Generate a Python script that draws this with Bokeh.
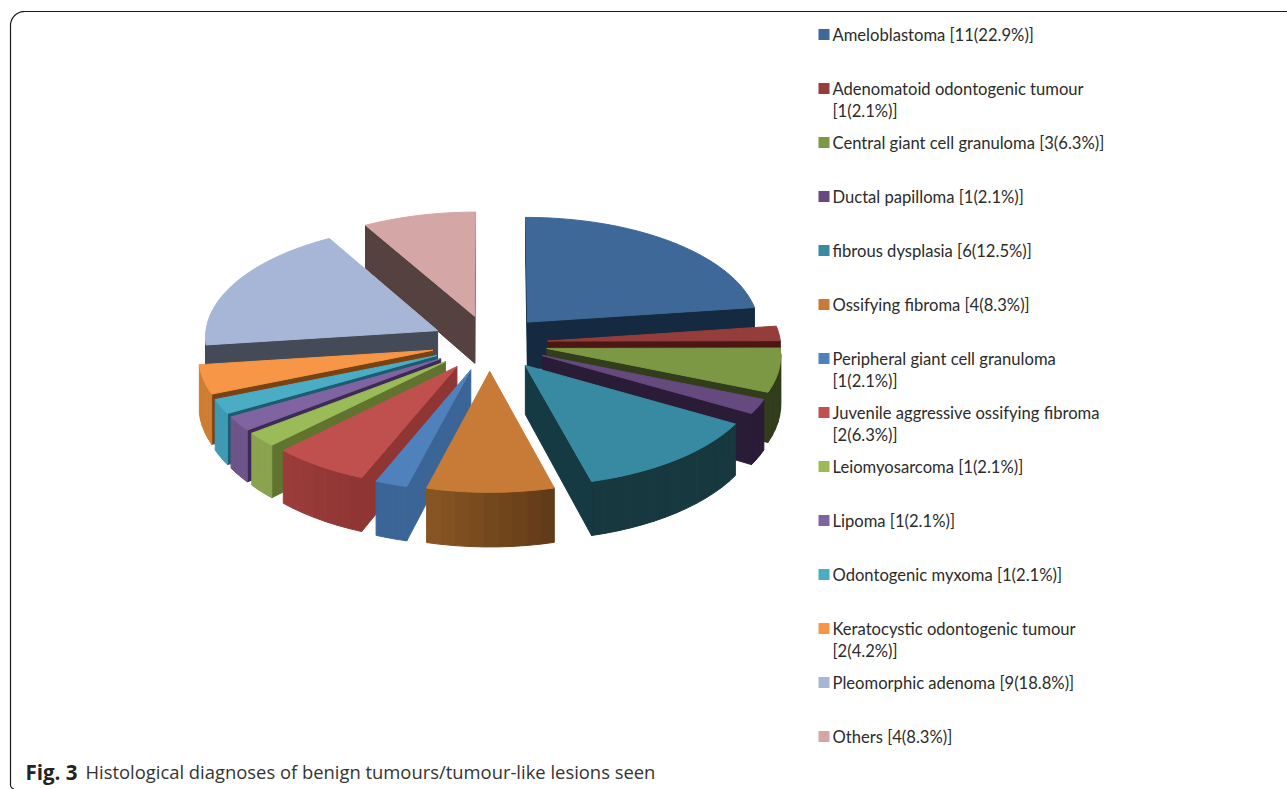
import numpy as np
from bokeh.plotting import figure, ColumnDataSource
from bokeh.embed import file_html
from bokeh.resources import INLINE
from bokeh.core.properties import value

# Diagnoses, case counts and shares as printed in the legend
labels = [
    "Ameloblastoma [11(22.9%)]",
    "Adenomatoid odontogenic tumour\n[1(2.1%)]",
    "Central giant cell granuloma [3(6.3%)]",
    "Ductal papilloma [1(2.1%)]",
    "fibrous dysplasia [6(12.5%)]",
    "Ossifying fibroma [4(8.3%)]",
    "Peripheral giant cell granuloma\n[1(2.1%)]",
    "Juvenile aggressive ossifying fibroma\n[2(6.3%)]",
    "Leiomyosarcoma [1(2.1%)]",
    "Lipoma [1(2.1%)]",
    "Odontogenic myxoma [1(2.1%)]",
    "Keratocystic odontogenic tumour\n[2(4.2%)]",
    "Pleomorphic adenoma [9(18.8%)]",
    "Others [4(8.3%)]",
]
shares = [22.9, 2.1, 6.3, 2.1, 12.5, 8.3, 2.1, 6.3, 2.1, 2.1, 2.1, 4.2, 18.8, 8.3]

# Face colours: top surface, cut faces, rim at the clockwise start and at the end of each slice
top_colors = ["#3e6897", "#953d3b", "#7d9845", "#65497f", "#388aa3", "#c87b36", "#4f81bd",
              "#c0504d", "#9bbb59", "#8064a2", "#4bacc6", "#f79646", "#a7b6d6", "#d5a6a6"]
cut_colors = ["#152a40", "#4a1715", "#323d1b", "#2a1c37", "#163a43", "#5e3817", "#3a6596",
              "#8f3634", "#60742f", "#3e2b55", "#1b5d6e", "#7a4213", "#454a58", "#544140"]
rim_start = ["#152a40", "#4a1715", "#323d1b", "#2a1c37", "#17383f", "#623b18", "#3a6596",
             "#8f3634", "#8ba24e", "#6d5489", "#3e9ab3", "#ce7d34", "#454a58", "#544140"]
rim_end = ["#152a40", "#4a1715", "#323d1b", "#2a1c37", "#17383f", "#875522", "#3a6596",
           "#9b3c3a", "#8ba24e", "#6d5489", "#3e9ab3", "#ce7d34", "#454a58", "#544140"]

# Projection of the exploded 3-D pie onto the page
CX, CY = 489.0, 342.5      # pie centre
AX, BY = 233.0, 112.0      # horizontal and vertical radii
PERSPECTIVE = 0.05
EXPLODE = 0.25             # radial offset of each slice, in pie radii
DEPTH = 48.0               # thickness of the pie
RIM_BANDS_DEG = 3.0        # angular width of one shading band on the rim


def project(gx, gy):
    s = 1.0 / (1.0 - PERSPECTIVE * gy)
    return CX + AX * gx * s, CY + BY * gy * s, DEPTH * s * s


def mix(c1, c2, t):
    a = [int(c1[i:i + 2], 16) for i in (1, 3, 5)]
    b = [int(c2[i:i + 2], 16) for i in (1, 3, 5)]
    return "#%02x%02x%02x" % tuple(round(u + (v - u) * t) for u, v in zip(a, b))


fractions = np.array(shares) / sum(shares)
edges = np.concatenate([[0.0], np.cumsum(fractions)]) * 2 * np.pi

polys_x, polys_y, polys_c = [], [], []


def add_poly(xs, ys, color):
    polys_x.append(list(xs))
    polys_y.append(list(ys))
    polys_c.append(color)


slices = []
for i in range(len(shares)):
    mid = (edges[i] + edges[i + 1]) / 2
    ox, oy = EXPLODE * np.sin(mid), -EXPLODE * np.cos(mid)
    span = np.degrees(edges[i + 1] - edges[i])
    theta = np.linspace(edges[i], edges[i + 1], max(4, int(span / RIM_BANDS_DEG) + 1))
    gx = np.concatenate([[ox], ox + np.sin(theta)])
    gy = np.concatenate([[oy], oy - np.cos(theta)])
    slices.append((project(ox, oy)[1], i, gx, gy))

# Paint from the back of the pie towards the viewer
for _, i, gx, gy in sorted(slices, key=lambda t: t[0]):
    sx, sy, sd = project(gx, gy)
    n = len(sx)
    for k in range(n):
        j = (k + 1) % n
        # Walking the outline clockwise, only leftward edges have a wall facing the viewer
        if sx[j] - sx[k] >= 0:
            continue
        if k == 0 or j == 0:
            color = cut_colors[i]
        else:
            color = mix(rim_start[i], rim_end[i], (k - 1) / max(1, n - 3))
        add_poly([sx[k], sx[j], sx[j], sx[k]],
                 [sy[k], sy[j], sy[j] + sd[j], sy[k] + sd[k]], color)
    add_poly(sx, sy, top_colors[i])

p = figure(width=1287, height=789, x_range=(0, 1287), y_range=(789, 0),
           output_backend="svg", toolbar_location=None, min_border=0,
           background_fill_color="white", border_fill_color="white", outline_line_color=None)
p.axis.visible = False
p.grid.visible = False

p.patches("x", "y", fill_color="c", line_color="c", line_width=1.0,
          source=ColumnDataSource(dict(x=polys_x, y=polys_y, c=polys_c)))

# Legend column: squares and one- or two-line labels
ROW_TOP, ROW_STEP, LINE_STEP = 34.0, 54.0, 22.0
rows = ROW_TOP + ROW_STEP * np.arange(len(labels))
p.rect(x=[823.5] * len(labels), y=rows, width=11, height=11,
       fill_color=top_colors, line_color=None)
tx, ty, tt = [], [], []
for r, lab in zip(rows, labels):
    for n, part in enumerate(lab.split("\n")):
        tx.append(832)
        ty.append(r + n * LINE_STEP)
        tt.append(part)
p.text(x=tx, y=ty, text=tt, text_font=value("Lato"), text_font_size="16.6px",
       text_baseline="middle", text_color="#2b2b2b")

# Rounded panel edge around the chart
R = 14.0
phi = np.linspace(np.pi, 1.5 * np.pi, 20)
corner_x = 10 + R + R * np.cos(phi)
corner_y = 11 + R + R * np.sin(phi)
phi2 = np.linspace(np.pi, 0.6 * np.pi, 8)
foot_x = 10 + 5 + 5 * np.cos(phi2)
foot_y = 784 + 5 * np.sin(phi2)
p.line(x=list(foot_x[::-1]) + list(corner_x) + [1287],
       y=list(foot_y[::-1]) + list(corner_y) + [11],
       line_color="#1a1a1a", line_width=1.2)

# Caption
FONT = value("Open Sans")
p.text(x=[25], y=[771], text=["Fig. 3"], text_font=FONT, text_font_style="bold",
       text_font_size="20.5px", text_baseline="middle", text_color="#222222")
p.text(x=[85], y=[771], text=["Histological diagnoses of benign tumours/tumour-like lesions seen"],
       text_font=FONT, text_font_size="18.4px", text_baseline="middle", text_color="#333333")

open("out.html", "w").write(file_html(p, INLINE))
